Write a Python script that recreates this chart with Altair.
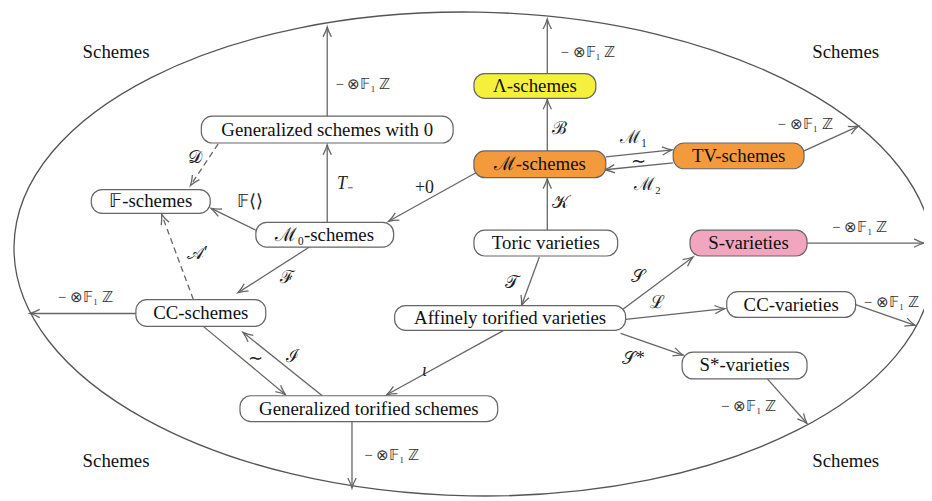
import math
import altair as alt
import pandas as pd

# ---------------- data ----------------
node_labels = ["Generalized schemes with 0", "𝔽-schemes", "ℳ₀-schemes", "Λ-schemes",
               "ℳ-schemes", "TV-schemes", "Toric varieties", "S-varieties",
               "Affinely torified varieties", "CC-varieties", "S*-varieties",
               "CC-schemes", "Generalized torified schemes"]
node_x1 = [203, 92, 258, 478, 478, 679, 478, 696, 398, 733, 688, 137, 242]
node_x2 = [457, 212, 397, 601, 611, 811, 623, 814, 631, 863, 814, 268, 502]
node_y1 = [115, 189, 222, 72, 150, 142, 230, 230, 306, 292, 353, 300, 397]
node_y2 = [142, 213, 247, 97, 177, 168, 256, 256, 331, 318, 380, 327, 423]
node_group = ["plain", "plain", "plain", "lambda", "m", "m", "plain", "s",
              "plain", "plain", "plain", "plain", "plain"]

edge_x1 = [330, 330, 220, 258, 480, 552, 552, 552, 611, 679, 811, 814, 544, 628, 631, 626, 863, 774, 508, 312, 195, 137, 205, 325, 355]
edge_y1 = [115, 222, 143, 230, 172, 230, 150, 72, 156, 162, 150, 243, 257, 310, 320, 334, 305, 380, 331, 247, 300, 314, 327, 397, 423]
edge_x2 = [330, 330, 192, 213, 392, 552, 552, 552, 678, 610, 866, 932, 526, 699, 731, 689, 923, 814, 390, 240, 163, 30, 288, 245, 355]
edge_y2 = [25, 144, 185, 208, 221, 178, 98, 17, 149, 169, 125, 243, 306, 257, 309, 356, 326, 425, 396, 293, 214, 314, 396, 333, 490]
edge_dashed = [False, False, True, False, False, False, False, False, False, False, False, False,
               False, False, False, False, False, False, False, False, True, False, False, False, False]

tensor = "− ⊗𝔽₁ ℤ"
tensor_x = [366, 593, 812, 867, 899, 755, 86, 395]
tensor_y = [83, 50, 123, 227, 302, 407, 297, 457]

script_labels = ["𝒟", "𝔽⟨⟩", "+0", "𝒜′", "ℱ", "ℐ", "∼", "𝒯", "𝒮", "ℒ", "𝒮*", "𝒦", "ℬ", "ℳ₁", "∼", "ℳ₂"]
script_x = [197, 252, 428, 199, 290, 295, 258, 516, 643, 663, 639, 565, 564, 639, 644, 653]
script_y = [157, 202, 187, 254, 278, 358, 360, 283, 277, 303, 360, 203, 128, 137, 161, 184]

italic_labels = ["T₋", "ι"]
italic_x = [348, 428]
italic_y = [183, 372]

region_labels = ["Schemes", "Schemes", "Schemes", "Schemes"]
region_x = [117, 853, 117, 853]
region_y = [50, 50, 463, 463]

ellipse_cx = [478]
ellipse_cy = [254]
ellipse_a = 464
ellipse_b = 244

# ---------------- frames ----------------
nodes = pd.DataFrame({"label": node_labels, "x1": node_x1, "x2": node_x2,
                      "y1": node_y1, "y2": node_y2, "group": node_group})
nodes["cx"] = (nodes.x1 + nodes.x2) / 2
nodes["cy"] = (nodes.y1 + nodes.y2) / 2

edges = pd.DataFrame({"x1": edge_x1, "y1": edge_y1, "x2": edge_x2, "y2": edge_y2,
                      "dashed": edge_dashed})
edges["angle"] = [math.degrees(math.atan2(b2 - b1, a2 - a1)) % 360
                  for a1, b1, a2, b2 in zip(edges.x1, edges.y1, edges.x2, edges.y2)]

tensors = pd.DataFrame({"t": [tensor] * len(tensor_x), "x": tensor_x, "y": tensor_y})
scripts = pd.DataFrame({"t": script_labels, "x": script_x, "y": script_y})
italics = pd.DataFrame({"t": italic_labels, "x": italic_x, "y": italic_y})
regions = pd.DataFrame({"t": region_labels, "x": region_x, "y": region_y})
ell = pd.DataFrame({"x": ellipse_cx, "y": ellipse_cy})

W, H = 916, 485
xs = alt.Scale(domain=[8, 8 + W], nice=False, zero=False)
ys = alt.Scale(domain=[8, 8 + H], reverse=True, nice=False, zero=False)
X = lambda f: alt.X(f, type="quantitative", scale=xs, axis=None)
Y = lambda f: alt.Y(f, type="quantitative", scale=ys, axis=None)

LINE = "#666666"
SERIF = "Liberation Serif"

k = ellipse_b / ellipse_a
c = 0.5523
ell_path = (f"M 1 0 C 1 {c*k:.4f} {c:.4f} {k:.4f} 0 {k:.4f} "
            f"C {-c:.4f} {k:.4f} -1 {c*k:.4f} -1 0 "
            f"C -1 {-c*k:.4f} {-c:.4f} {-k:.4f} 0 {-k:.4f} "
            f"C {c:.4f} {-k:.4f} 1 {-c*k:.4f} 1 0 Z")

ellipse = alt.Chart(ell).mark_point(
    shape=ell_path, filled=False, stroke="#555555", strokeWidth=1.3,
    size=(2 * ellipse_a) ** 2, angle=1, opacity=1
).encode(x=X("x"), y=Y("y"))

solid = alt.Chart(edges[~edges.dashed]).mark_rule(color=LINE, strokeWidth=1.3).encode(
    x=X("x1"), y=Y("y1"), x2="x2", y2="y2")
dashed = alt.Chart(edges[edges.dashed]).mark_rule(color=LINE, strokeWidth=1.3,
                                                   strokeDash=[6, 4]).encode(
    x=X("x1"), y=Y("y1"), x2="x2", y2="y2")

head_path = "M -1 -0.42 Q -0.45 -0.12 0 0 Q -0.45 0.12 -1 0.42"
heads = alt.Chart(edges).mark_point(
    shape=head_path, filled=False, stroke=LINE, strokeWidth=1.3, size=400, opacity=1
).encode(x=X("x2"), y=Y("y2"), angle=alt.Angle("angle:Q", scale=None))

boxes = alt.Chart(nodes).mark_rect(cornerRadius=11, stroke="#666666", strokeWidth=1.2).encode(
    x=X("x1"), x2="x2", y=Y("y1"), y2="y2",
    fill=alt.Fill("group:N", legend=None,
                  scale=alt.Scale(domain=["plain", "lambda", "m", "s"],
                                  range=["#ffffff", "#f4f03c", "#f39a3d", "#f1a5bf"])))

box_text = alt.Chart(nodes).mark_text(font=SERIF, fontSize=19, color="#111111",
                                      baseline="middle", align="center").encode(
    x=X("cx"), y=Y("cy"), text="label:N")

tensor_text = alt.Chart(tensors).mark_text(font=SERIF, fontSize=15, color="#333333",
                                           baseline="middle", align="center").encode(
    x=X("x"), y=Y("y"), text="t:N")
script_text = alt.Chart(scripts).mark_text(font=SERIF, fontSize=18, color="#222222",
                                           baseline="middle", align="center").encode(
    x=X("x"), y=Y("y"), text="t:N")
italic_text = alt.Chart(italics).mark_text(font=SERIF, fontSize=18, fontStyle="italic",
                                           color="#222222", baseline="middle",
                                           align="center").encode(
    x=X("x"), y=Y("y"), text="t:N")
region_text = alt.Chart(regions).mark_text(font=SERIF, fontSize=19, color="#111111",
                                           baseline="middle", align="center").encode(
    x=X("x"), y=Y("y"), text="t:N")

chart = alt.layer(ellipse, solid, dashed, heads, boxes, box_text, tensor_text,
                  script_text, italic_text, region_text).properties(
    width=W, height=H, padding={"left": 0, "top": 0, "right": 8, "bottom": 8},
    autosize="none", background="white"
).configure_view(stroke=None)

chart.save("out.html", embed_options={"renderer": "svg", "actions": False})
